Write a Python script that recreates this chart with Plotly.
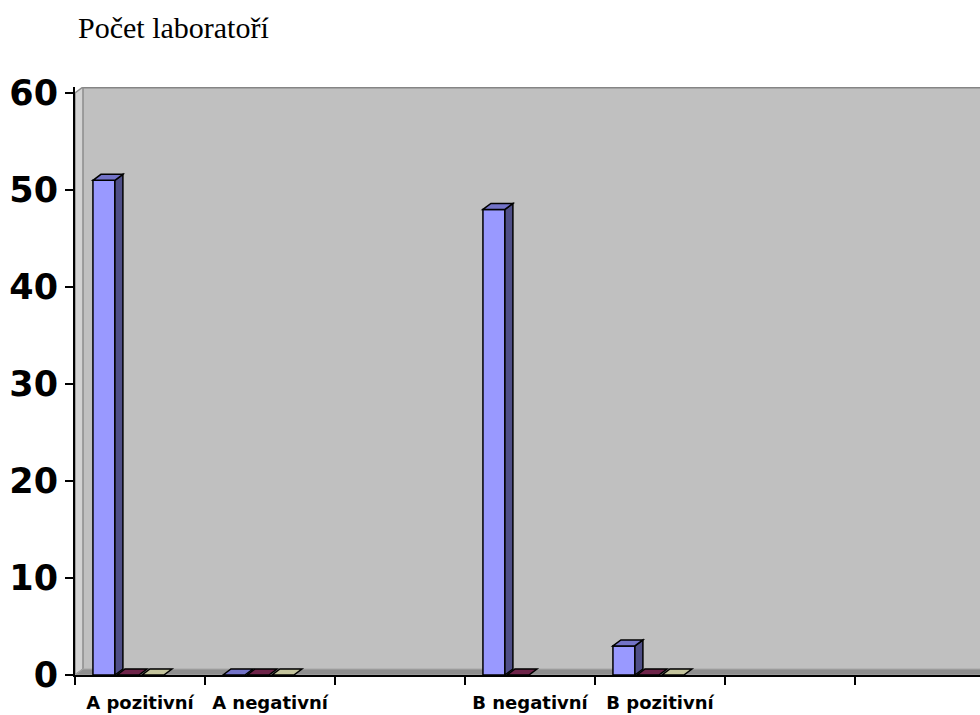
import plotly.graph_objects as go

# ---- data ----
categories = ["A pozitivní", "A negativní", "", "B negativní", "B pozitivní", "", ""]
series1 = [51, 0, None, 48, 3, None, None]
series2 = [0, 0, None, 0, 0, None, None]
series3 = [0, 0, None, None, 0, None, None]
series_names = ["Řada 1", "Řada 2", "Řada 3"]
y_ticks = [0, 10, 20, 30, 40, 50, 60]
title_text = "Počet laboratoří"

# ---- style ----
front = ["#9999FF", "#993366", "#FFFFCC"]
top_c = ["#7373C8", "#6E2449", "#C4C49C"]
side_c = ["#4F4F88", "#5A1D3B", "#A8A880"]
offsets = [-0.362, -0.177, 0.015]
bw = 0.169
dx, dy = 0.0615, 0.62
ytop = 60 + dy
xmin = -0.5
xmax = -0.5 + 905 / 130

pos = list(range(len(categories)))
series = [series1, series2, series3]

fig = go.Figure()
for k, vals in enumerate(series):
    fig.add_trace(go.Bar(
        x=pos, y=vals, name=series_names[k],
        offset=offsets[k], width=bw,
        marker=dict(color=front[k], line=dict(color="black", width=1.5)),
        showlegend=False, hoverinfo="skip"))

shapes = []
# walls and floor
shapes.append(dict(type="rect", xref="x", yref="y", x0=xmin + dx, x1=xmax + 1, y0=dy, y1=ytop,
                   fillcolor="#C0C0C0", line=dict(width=0), layer="below"))
shapes.append(dict(type="line", xref="x", yref="y", x0=xmin + dx, x1=xmax + 1, y0=ytop, y1=ytop,
                   line=dict(color="#858585", width=3), layer="below"))
shapes.append(dict(type="path", xref="x", yref="y",
                   path=f"M{xmin},0 L{xmin+dx},{dy} L{xmin+dx},{ytop} L{xmin},60 Z",
                   fillcolor="#D2D2D2", line=dict(color="#8C8C8C", width=1.5), layer="below"))
shapes.append(dict(type="path", xref="x", yref="y",
                   path=f"M{xmin},0 L{xmin+dx},{dy} L{xmax+1},{dy} L{xmax+1},0 Z",
                   fillcolor="#8E8E8E", line=dict(color="#A8A8A8", width=1), layer="below"))

# 3D faces for bars, drawn right to left in each category
for i in pos:
    for k in reversed(range(3)):
        v = series[k][i]
        if v is None:
            continue
        x0 = i + offsets[k]
        x1 = x0 + bw
        if v > 0:
            shapes.append(dict(type="path", xref="x", yref="y",
                               path=f"M{x1},0 L{x1+dx},{dy} L{x1+dx},{v+dy} L{x1},{v} Z",
                               fillcolor=side_c[k], line=dict(color="black", width=1.5)))
        shapes.append(dict(type="path", xref="x", yref="y",
                           path=f"M{x0},{v} L{x0+dx},{v+dy} L{x1+dx},{v+dy} L{x1},{v} Z",
                           fillcolor=top_c[k], line=dict(color="black", width=1.5)))

fig.update_layout(
    width=980, height=715,
    margin=dict(l=75, r=0, t=87, b=40),
    paper_bgcolor="white", plot_bgcolor="white",
    barmode="overlay",
    shapes=shapes,
    xaxis=dict(range=[xmin, xmax], tickvals=pos, ticktext=categories, ticks="",
               ticklabelstandoff=10,
               showgrid=False, zeroline=False, showline=True, linecolor="black", linewidth=2,
               tickfont=dict(family="DejaVu Sans", size=18, color="black", weight="bold"),
               minor=dict(tickvals=[p - 0.5 for p in pos] + [len(pos) - 0.5], ticks="outside",
                          ticklen=8, tickcolor="black", tickwidth=1.5, showgrid=False)),
    yaxis=dict(range=[0, ytop], tickvals=y_ticks, ticks="outside", ticklen=8,
               tickcolor="black", tickwidth=2, showgrid=False, zeroline=False,
               showline=True, linecolor="black", linewidth=2,
               tickfont=dict(family="DejaVu Sans", size=35, color="black", weight="bold")),
    annotations=[dict(text=title_text, xref="paper", yref="paper",
                      x=(76 - 75) / 905, y=1 + (87 - 27) / 588, xanchor="left", yanchor="middle",
                      showarrow=False,
                      font=dict(family="Liberation Serif", size=30, color="black"))],
)

fig.write_html("out.html", post_script="document.body.style.margin='0';",
               config={"displayModeBar": False})
